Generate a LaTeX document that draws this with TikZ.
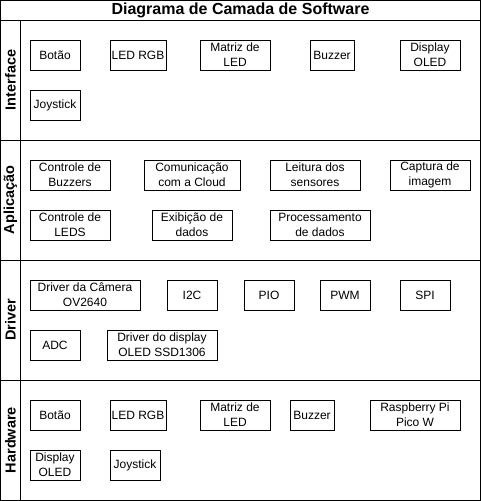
\documentclass[tikz,border=0pt]{standalone}
\usepackage{fontspec}
\setmainfont{Liberation Sans}
\begin{document}
\begin{tikzpicture}[x=1pt,y=-1pt,
  bx/.style={draw=black,line width=1pt,fill=white,inner sep=0pt,minimum height=30pt,align=center,font=\fontsize{12}{15}\selectfont},
  lanelbl/.style={rotate=90,font=\fontsize{14.5}{16}\selectfont\bfseries,inner sep=0pt},
  frameline/.style={draw=black,line width=1pt}]
\useasboundingbox (0,0) rectangle (481,501);
% frame and lanes
\draw[frameline] (0.5,0.5) rectangle (480.5,500.5);
\draw[frameline] (0.5,20) -- (480.5,20);
\draw[frameline] (0.5,140) -- (480.5,140);
\draw[frameline] (0.5,260) -- (480.5,260);
\draw[frameline] (0.5,380) -- (480.5,380);
\draw[frameline] (20,20) -- (20,500.5);
\node[font=\fontsize{16}{18}\selectfont\bfseries,inner sep=0pt] (title) at (240.5,10) {Diagrama de Camada de Software};
\node[lanelbl] (lI) at (10.5,80) {Interface};
\node[lanelbl] (lA) at (10.5,200) {Aplicação};
\node[lanelbl] (lD) at (10.5,320) {Driver};
\node[lanelbl] (lH) at (10.5,440) {Hardware};
% Interface
\node[bx,minimum width=50pt] (i1) at (55,55) {Botão};
\node[bx,minimum width=56pt] (i2) at (138,55) {LED RGB};
\node[bx,minimum width=70pt] (i3) at (235,55) {Matriz de\\LED};
\node[bx,minimum width=44pt] (i4) at (332,55) {Buzzer};
\node[bx,minimum width=60pt] (i5) at (430,55) {Display\\OLED};
\node[bx,minimum width=50pt] (i6) at (55,105) {Joystick};
% Aplicacao
\node[bx,minimum width=80pt] (a1) at (70,175) {Controle de\\Buzzers};
\node[bx,minimum width=96pt] (a2) at (192,175) {Comunicação\\com a Cloud};
\node[bx,minimum width=90pt] (a3) at (315,175) {Leitura dos\\sensores};
\node[bx,minimum width=80pt] (a4) at (430,175) {Captura de\\imagem};
\node[bx,minimum width=80pt] (a5) at (70,225) {Controle de\\LEDS};
\node[bx,minimum width=80pt] (a6) at (192,225) {Exibição de\\dados};
\node[bx,minimum width=100pt] (a7) at (320,225) {Processamento\\de dados};
% Driver
\node[bx,minimum width=110pt] (d1) at (85,295) {Driver da Câmera\\OV2640};
\node[bx,minimum width=50pt] (d2) at (192,295) {I2C};
\node[bx,minimum width=50pt] (d3) at (269,295) {PIO};
\node[bx,minimum width=50pt] (d4) at (345,295) {PWM};
\node[bx,minimum width=50pt] (d5) at (425,295) {SPI};
\node[bx,minimum width=50pt] (d6) at (55,345) {ADC};
\node[bx,minimum width=110pt] (d7) at (162,345) {Driver do display\\OLED SSD1306};
% Hardware
\node[bx,minimum width=50pt] (h1) at (55,415) {Botão};
\node[bx,minimum width=56pt] (h2) at (138,415) {LED RGB};
\node[bx,minimum width=70pt] (h3) at (235,415) {Matriz de\\LED};
\node[bx,minimum width=44pt] (h4) at (312,415) {Buzzer};
\node[bx,minimum width=90pt] (h5) at (415,415) {Raspberry Pi\\Pico W};
\node[bx,minimum width=50pt] (h6) at (55,465) {Display\\OLED};
\node[bx,minimum width=50pt] (h7) at (135,465) {Joystick};
\end{tikzpicture}
\end{document}
